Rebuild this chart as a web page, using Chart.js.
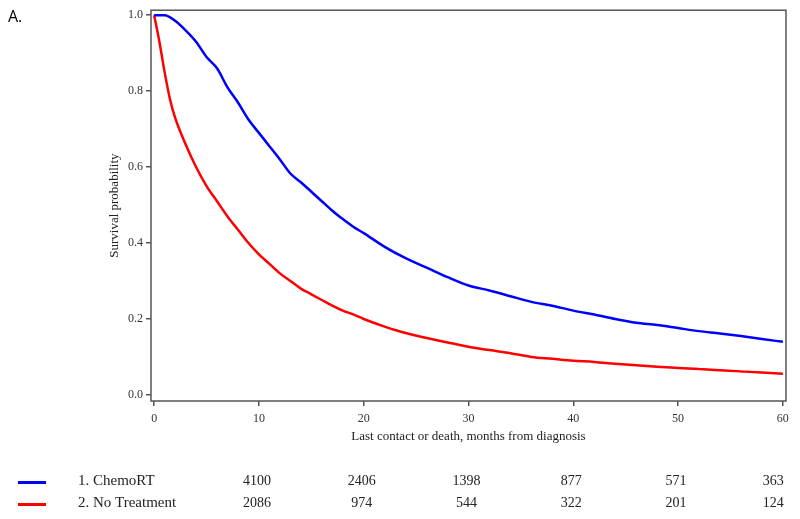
<!DOCTYPE html>
<html>
<head>
<meta charset="utf-8">
<script src="https://cdn.jsdelivr.net/npm/chart.js@4"></script>
<style>
  html, body { margin: 0; padding: 0; background: #fff; }
</style>
</head>
<body>
<canvas id="grafica" width="800" height="519"></canvas>
<script>
const chemoMeses = [0, 1, 2, 3, 4, 5, 6, 7, 8, 9, 10, 11, 12, 13, 14, 15, 16, 17, 18, 19, 20, 22, 24, 26, 28, 30, 32, 34, 36, 38, 40, 42, 44, 46, 48, 50, 52, 54, 56, 58, 60];
const chemoSupervivencia = [1.0, 1.0, 0.985, 0.96, 0.93, 0.89, 0.86, 0.81, 0.77, 0.725, 0.69, 0.655, 0.62, 0.583, 0.56, 0.535, 0.51, 0.485, 0.463, 0.443, 0.426, 0.39, 0.36, 0.335, 0.31, 0.288, 0.275, 0.26, 0.245, 0.235, 0.222, 0.212, 0.2, 0.19, 0.184, 0.176, 0.168, 0.162, 0.155, 0.147, 0.14];
const sinTratMeses = [0, 0.5, 1, 1.5, 2, 3, 4, 5, 6, 7, 8, 9, 10, 11, 12, 13, 14, 15, 16, 17, 18, 19, 20, 22, 24, 26, 28, 30, 32, 34, 36, 38, 40, 42, 44, 46, 48, 50, 52, 54, 56, 58, 60];
const sinTratSupervivencia = [1.0, 0.93, 0.85, 0.78, 0.73, 0.66, 0.6, 0.55, 0.51, 0.47, 0.435, 0.4, 0.37, 0.345, 0.32, 0.3, 0.28, 0.265, 0.25, 0.235, 0.222, 0.212, 0.2, 0.18, 0.163, 0.15, 0.138, 0.127, 0.118, 0.11, 0.1, 0.095, 0.09, 0.087, 0.082, 0.078, 0.074, 0.071, 0.068, 0.065, 0.062, 0.059, 0.056];

const nombresGrupos = ['1. ChemoRT', '2. No Treatment'];
const coloresGrupos = ['#0000ff', '#ff0000'];

// Tabla de pacientes en riesgo
const tiemposRiesgo = [10, 20, 30, 40, 50, 60];
const riesgoChemo = [4100, 2406, 1398, 877, 571, 363];
const riesgoSinTrat = [2086, 974, 544, 322, 201, 124];

const ticksX = [0, 10, 20, 30, 40, 50, 60];
const ticksY = [0.0, 0.2, 0.4, 0.6, 0.8, 1.0];

const tituloX = 'Last contact or death, months from diagnosis';
const tituloY = 'Survival probability';
const letraPanel = 'A.';

const fuenteSerif = '"Liberation Serif", "DejaVu Serif", serif';

function aPuntos(xs, ys) {
    return xs.map((x, i) => ({ x: x, y: ys[i] }));
}

const pluginDecoracion = {
    id: 'decoracion',
    afterDraw(chart) {
        const ctx = chart.ctx;
        const area = chart.chartArea;
        const escalaX = chart.scales.x;
        ctx.save();

        // Marco del grafico
        ctx.strokeStyle = '#555';
        ctx.lineWidth = 1.5;
        ctx.strokeRect(area.left, area.top, area.right - area.left, area.bottom - area.top);

        // Letra del panel
        ctx.fillStyle = '#000';
        ctx.font = '16px "Open Sans", "Liberation Sans", sans-serif';
        ctx.textAlign = 'left';
        ctx.textBaseline = 'alphabetic';
        ctx.fillText(letraPanel, 8, 22);

        // Titulos de los ejes
        ctx.fillStyle = '#222';
        ctx.font = '13px ' + fuenteSerif;
        ctx.textAlign = 'center';
        ctx.textBaseline = 'middle';
        const centroX = (escalaX.getPixelForValue(0) + escalaX.getPixelForValue(60)) / 2;
        ctx.fillText(tituloX, centroX, 437);
        ctx.save();
        ctx.translate(115, (area.top + area.bottom) / 2);
        ctx.rotate(-Math.PI / 2);
        ctx.fillText(tituloY, 0, 0);
        ctx.restore();

        // Tabla de riesgo con leyenda
        const filas = [riesgoChemo, riesgoSinTrat];
        const yFilas = [481, 503];
        filas.forEach((fila, i) => {
            const y = yFilas[i];
            ctx.strokeStyle = coloresGrupos[i];
            ctx.lineWidth = 3;
            ctx.beginPath();
            ctx.moveTo(18, y + 1.5);
            ctx.lineTo(46, y + 1.5);
            ctx.stroke();

            ctx.fillStyle = '#222';
            ctx.textAlign = 'left';
            ctx.font = '15px ' + fuenteSerif;
            ctx.fillText(nombresGrupos[i], 78, y);

            ctx.font = '14px ' + fuenteSerif;
            fila.forEach((n, j) => {
                const px = escalaX.getPixelForValue(tiemposRiesgo[j]);
                if (j === fila.length - 1) {
                    ctx.textAlign = 'right';
                    ctx.fillText(String(n), px + 1, y);
                } else {
                    ctx.textAlign = 'center';
                    ctx.fillText(String(n), px - 2, y);
                }
            });
        });

        ctx.restore();
    }
};

const ctx = document.getElementById('grafica').getContext('2d');

new Chart(ctx, {
    type: 'line',
    data: {
        datasets: [
            {
                label: nombresGrupos[0],
                data: aPuntos(chemoMeses, chemoSupervivencia),
                borderColor: coloresGrupos[0],
                borderWidth: 2.5,
                pointRadius: 0,
                cubicInterpolationMode: 'monotone',
                fill: false
            },
            {
                label: nombresGrupos[1],
                data: aPuntos(sinTratMeses, sinTratSupervivencia),
                borderColor: coloresGrupos[1],
                borderWidth: 2.5,
                pointRadius: 0,
                cubicInterpolationMode: 'monotone',
                fill: false
            }
        ]
    },
    options: {
        responsive: false,
        animation: false,
        layout: { padding: { top: 9, right: 14, left: 0, bottom: 0 } },
        plugins: {
            legend: { display: false },
            tooltip: { enabled: false }
        },
        scales: {
            x: {
                type: 'linear',
                min: -0.3,
                max: 60.3,
                afterBuildTicks: s => { s.ticks = ticksX.map(v => ({ value: v })); },
                afterFit: s => { s.height = 118; },
                grid: { drawOnChartArea: false, drawTicks: true, tickLength: 5, color: '#555', lineWidth: 1.5 },
                border: { display: false },
                ticks: {
                    font: { family: fuenteSerif, size: 12 },
                    color: '#333',
                    padding: 6,
                    maxRotation: 0,
                    callback: v => String(v)
                }
            },
            y: {
                type: 'linear',
                min: -0.016,
                max: 1.013,
                afterBuildTicks: s => { s.ticks = ticksY.map(v => ({ value: v })); },
                afterFit: s => { s.width = 151; },
                grid: { drawOnChartArea: false, drawTicks: true, tickLength: 5, color: '#555', lineWidth: 1.5 },
                border: { display: false },
                ticks: {
                    font: { family: fuenteSerif, size: 12 },
                    color: '#333',
                    padding: 3,
                    callback: v => Number(v).toFixed(1)
                }
            }
        }
    },
    plugins: [pluginDecoracion]
});
</script>
</body>
</html>
